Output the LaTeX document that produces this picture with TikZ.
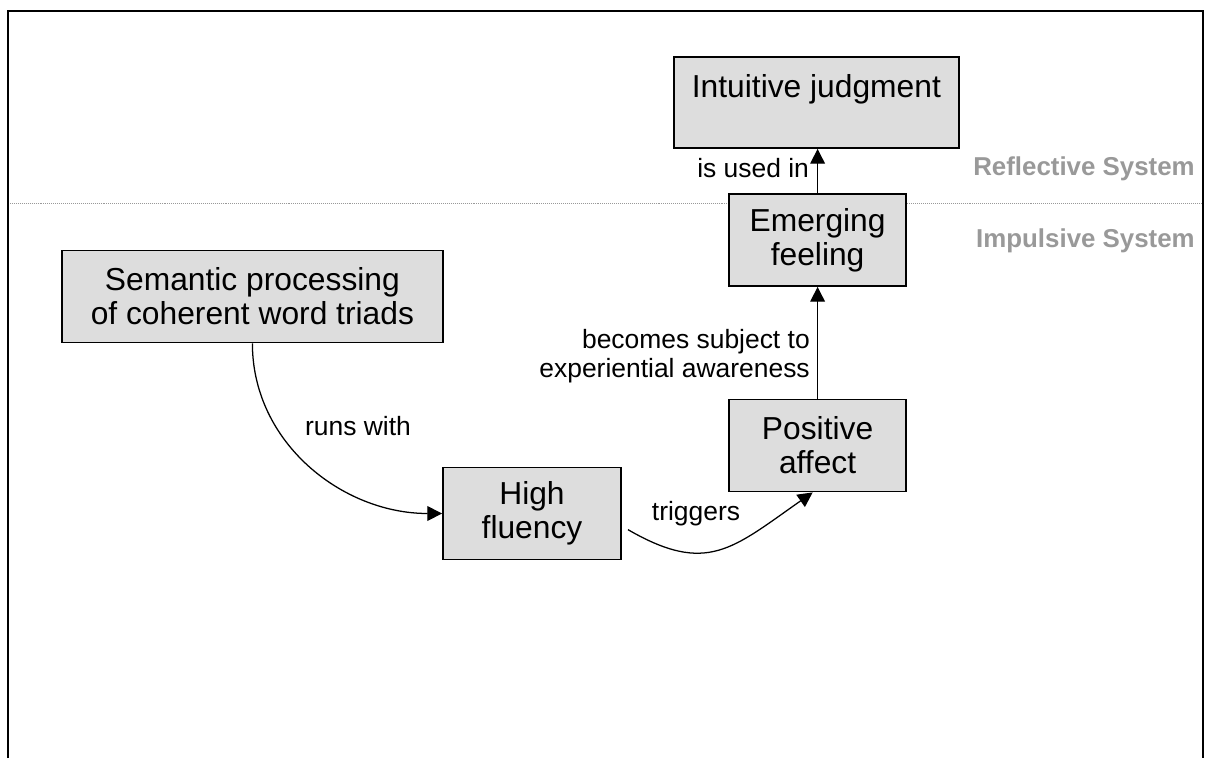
\documentclass[tikz,border=0pt]{standalone}
\usepackage{fontspec}
\setmainfont{Liberation Sans}
\usetikzlibrary{arrows.meta}
\definecolor{boxgray}{HTML}{DDDDDD}
\definecolor{sysgray}{HTML}{999999}

\begin{document}
\begin{tikzpicture}[
  box/.style={rectangle, draw, line width=1.3pt, fill=boxgray, minimum height=2.3cm, align=center, inner sep=0pt, font=\fontsize{22.6}{24}\selectfont},
  arrow/.style={-{Triangle[length=10.5pt, width=10.5pt]}, line width=0.9pt},
  lbl/.style={inner sep=0pt, align=right, font=\fontsize{18.8}{20.6}\selectfont},
  sys/.style={inner sep=0pt, anchor=base east, text=sysgray, font=\fontsize{18.4}{20}\selectfont\bfseries}
]
  \useasboundingbox (0,0) rectangle (30.15,-18.95);

  % frame and the line between the two systems
  \draw[line width=1.4pt] (0.2,-18.95) |- (30.075,-0.275) -- (30.075,-18.95);
  \draw[sysgray, line width=0.6pt, dash pattern=on 0.7pt off 0.7pt] (0.25,-5.075) -- (30.05,-5.075);
  \node[sys] (refl) at (29.875,-4.375) {Reflective System};
  \node[sys] (impl) at (29.875,-6.175) {Impulsive System};

  \node[box, minimum width=7.125cm, minimum height=2.275cm] (judge) at (20.41,-2.5625) {Intuitive judgment\\\mbox{}};

  \node[box, minimum width=4.425cm] (feeling) at (20.44,-6.0) {Emerging\\feeling};

  \node[box, minimum width=4.425cm] (affect) at (20.44,-11.1375) {Positive\\affect};

  \node[box, minimum width=9.525cm] (semantic) at (6.31,-7.4125) {Semantic processing\\of coherent word triads};

  \node[box, minimum width=4.45cm] (fluency) at (13.3,-12.8375) {High\\fluency};

  \draw[arrow] (feeling.north) -- node[lbl, anchor=base east, pos=0.35, xshift=-0.2cm] (usedin) {is used in} (feeling.north |- judge.south);
  \draw[arrow] (affect.north) -- node[lbl, anchor=east, pos=0.38, xshift=-0.18cm] (aware) {becomes subject to\\experiential awareness} (feeling.south);
  \draw[arrow] (semantic.south) to[out=-90, in=180] (fluency.west);
  \draw[arrow, shorten <=5pt] (fluency.-8.6) to[out=-30, in=-145, looseness=1.3] (affect.-96);

  \node[lbl, anchor=base] (runs) at (8.95,-10.875) {runs with};
  \node[lbl, anchor=base] (trig) at (17.4,-13.0) {triggers};
\end{tikzpicture}
\end{document}
